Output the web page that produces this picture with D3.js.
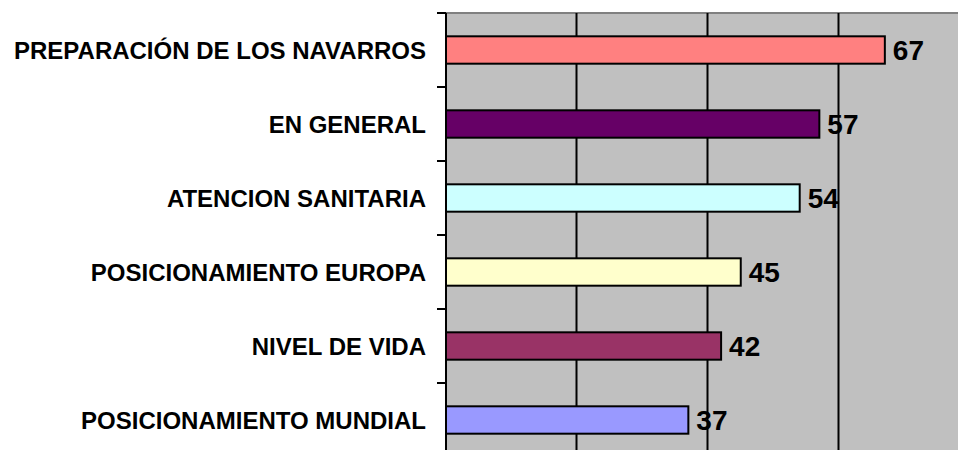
<!DOCTYPE html>
<html>
<head>
<meta charset="utf-8">
<script src="https://cdn.jsdelivr.net/npm/d3@7"></script>
<style>
  body { margin: 0; background: white; }
  text { font-family: "Liberation Sans", Arial, sans-serif; font-weight: bold; fill: #000; }
</style>
</head>
<body>
<div id="container"></div>
<script>
var categories = ['PREPARACIÓN DE LOS NAVARROS', 'EN GENERAL', 'ATENCION SANITARIA',
                  'POSICIONAMIENTO EUROPA', 'NIVEL DE VIDA', 'POSICIONAMIENTO MUNDIAL'];
var values = [67, 57, 54, 45, 42, 37];
var gridTicks = [20, 40, 60];
var barColors = ['#FF8080', '#660066', '#CCFFFF', '#FFFFCC', '#993366', '#9999FF'];

var svgWidth = 958,
    svgHeight = 450,
    svg = d3.select('#container').append('svg').attr('width', svgWidth).attr('height', svgHeight),
    plotLeft = 446,
    plotTop = 13;

var x = d3.scaleLinear().domain([0, 80]).range([plotLeft, plotLeft + 524]);
var y = d3.scaleBand().domain(categories).range([plotTop, plotTop + 444])
  .paddingInner(0.63).paddingOuter(0.315);

// plot area
svg.append('rect')
  .attr('x', x(0)).attr('y', plotTop)
  .attr('width', x(80) - x(0)).attr('height', svgHeight - plotTop)
  .attr('fill', '#C0C0C0');

svg.append('line')
  .attr('x1', x(0)).attr('x2', svgWidth)
  .attr('y1', plotTop).attr('y2', plotTop)
  .attr('stroke', '#808080').attr('stroke-width', 2);

// gridlines
svg.selectAll('.grid').data(gridTicks).enter().append('line')
  .attr('class', 'grid')
  .attr('x1', function(d) { return Math.round(x(d)) - 0.5; })
  .attr('x2', function(d) { return Math.round(x(d)) - 0.5; })
  .attr('y1', plotTop).attr('y2', svgHeight)
  .attr('stroke', '#000').attr('stroke-width', 2);

// bars
svg.selectAll('.bar').data(values).enter().append('rect')
  .attr('class', 'bar')
  .attr('x', x(0))
  .attr('y', function(d, i) { return y(categories[i]); })
  .attr('width', function(d) { return x(d) - x(0); })
  .attr('height', y.bandwidth())
  .attr('fill', function(d, i) { return barColors[i]; })
  .attr('stroke', '#000')
  .attr('stroke-width', 2);

// value labels
svg.selectAll('.val').data(values).enter().append('text')
  .attr('class', 'val')
  .attr('x', function(d) { return x(d) + 8; })
  .attr('y', function(d, i) { return y(categories[i]) + y.bandwidth() / 2; })
  .attr('dy', '0.36em')
  .style('font-size', '28px')
  .text(function(d) { return d; });

// left axis with ticks between categories
var boundaries = d3.range(categories.length + 1).map(function(i) { return plotTop + i * y.step(); });
svg.append('line')
  .attr('x1', x(0)).attr('x2', x(0))
  .attr('y1', plotTop).attr('y2', svgHeight)
  .attr('stroke', '#000').attr('stroke-width', 2);
svg.selectAll('.tick').data(boundaries).enter().append('line')
  .attr('class', 'tick')
  .attr('x1', x(0) - 9).attr('x2', x(0))
  .attr('y1', function(d) { return d; }).attr('y2', function(d) { return d; })
  .attr('stroke', '#000').attr('stroke-width', 2);

// category labels
svg.selectAll('.cat').data(categories).enter().append('text')
  .attr('class', 'cat')
  .attr('x', 426)
  .attr('y', function(d) { return y(d) + y.bandwidth() / 2; })
  .attr('dy', '0.36em')
  .attr('text-anchor', 'end')
  .style('font-size', '24px')
  .text(function(d) { return d; });
</script>
</body>
</html>
